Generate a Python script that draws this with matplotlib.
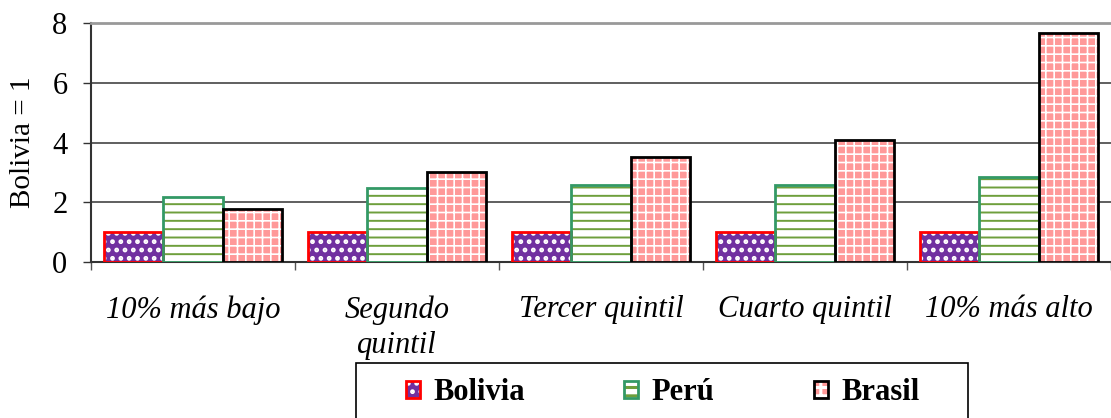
import matplotlib
matplotlib.use("Agg")
import matplotlib.pyplot as plt
from matplotlib.patches import Rectangle
from matplotlib.legend_handler import HandlerTuple
import numpy as np

categories = ["10% más bajo", "Segundo\nquintil", "Tercer quintil", "Cuarto quintil", "10% más alto"]
series_names = ["Bolivia", "Perú", "Brasil"]
bolivia = [1.0, 1.0, 1.0, 1.0, 1.0]
peru = [2.18, 2.49, 2.58, 2.58, 2.85]
brasil = [1.79, 3.0, 3.51, 4.09, 7.68]
yticks = [0, 2, 4, 6, 8]

plt.rcParams['font.family'] = ['Liberation Serif', 'DejaVu Serif']
plt.rcParams['hatch.linewidth'] = 2.2

fig = plt.figure(figsize=(11.11, 4.18), dpi=100)
W, H = 1111, 418
ax = fig.add_axes([91 / W, 1 - 262 / H, (1111 - 91) / W, (262 - 23) / H])

x = np.arange(len(categories))
width = 0.29
styles = [
    dict(face="#7030A0", hatch="..", hatchc="#FFFFFF", edge="#FF0000", hlw=2.2),
    dict(face="#FFFFFF", hatch="--", hatchc="#6E9F3C", edge="#339966", hlw=1.4),
    dict(face="#FF9999", hatch="++", hatchc="#FFFFFF", edge="#000000", hlw=1.2),
]
data = [bolivia, peru, brasil]
handles = []
for i, (vals, st) in enumerate(zip(data, styles)):
    pos = x + (i - 1) * width
    with plt.rc_context({'hatch.linewidth': st["hlw"]}):
        ax.bar(pos, vals, width, color=st["face"], hatch=st["hatch"],
               edgecolor=st["hatchc"], linewidth=0, zorder=3)
        h1 = Rectangle((0, 0), 1, 1, facecolor=st["face"], hatch=st["hatch"],
                       edgecolor=st["hatchc"], linewidth=0)
    ax.bar(pos, vals, width, fill=False, edgecolor=st["edge"], linewidth=2, zorder=4)
    h2 = Rectangle((0, 0), 1, 1, fill=False, edgecolor=st["edge"], linewidth=2)
    handles.append((h1, h2))

ax.set_xlim(-0.5, len(categories) - 0.5)
ax.set_ylim(0, 8)
ax.set_yticks(yticks)
ax.set_yticklabels([str(t) for t in yticks], fontsize=22)
ax.yaxis.grid(True, color="#444444", linewidth=1.2, zorder=0)
ax.set_axisbelow(True)

ax.set_xticks(x)
ax.set_xticklabels(categories, fontsize=22, style="italic", linespacing=1.3, va="top")
ax.tick_params(axis="x", which="major", length=0, pad=24)
ax.set_xticks(np.arange(-0.5, len(categories), 1.0), minor=True)
ax.tick_params(axis="x", which="minor", length=6, width=1, color="#555555", direction="out")
ax.tick_params(axis="y", length=6, width=1, color="#333333", direction="out", pad=11)

ax.spines["right"].set_visible(False)
ax.spines["top"].set_color("#999999")
ax.spines["top"].set_linewidth(2)
ax.spines["left"].set_color("#333333")
ax.spines["left"].set_linewidth(1.5)
ax.spines["bottom"].set_color("#333333")
ax.spines["bottom"].set_linewidth(1.5)

ax.set_ylabel("Bolivia = 1", fontsize=21)
ax.yaxis.set_label_coords(-0.054, 0.5)

# legend box
fig.patches.append(Rectangle((356 / W, -0.05), (968 - 356) / W, (418 - 363) / H + 0.05,
                             transform=fig.transFigure, fill=False,
                             edgecolor="black", linewidth=1.2))
leg = fig.legend(handles, series_names, handler_map={tuple: HandlerTuple(ndivide=1, pad=0)},
                 loc="center left", bbox_to_anchor=(406 / W, 1 - 393 / H), ncol=3,
                 frameon=False, prop={"size": 22, "weight": "bold"},
                 handlelength=0.45, handleheight=0.5, handletextpad=0.45,
                 columnspacing=3.25, borderpad=0, borderaxespad=0)

fig.savefig("out.png", dpi=100)
